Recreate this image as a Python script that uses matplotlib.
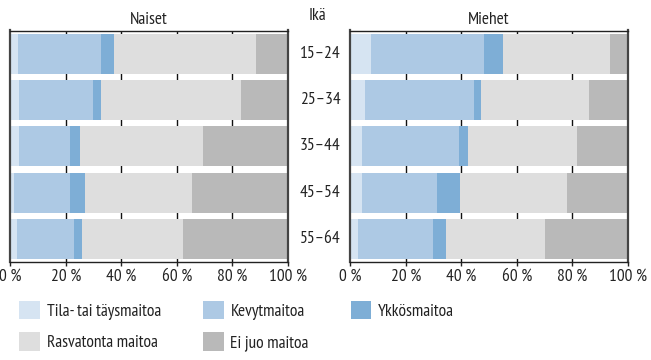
import numpy as np
import matplotlib
matplotlib.use("Agg")
import matplotlib.pyplot as plt
import matplotlib.transforms as mtrans
from matplotlib.patches import Patch

plt.rcParams['font.family'] = ['PT Sans Narrow', 'DejaVu Sans']
plt.rcParams['font.weight'] = 'normal'
FS = 12.5
plt.rcParams['font.size'] = FS

ages = ["15–24", "25–34", "35–44", "45–54", "55–64"]
categories = ["Tila- tai täysmaitoa", "Kevytmaitoa", "Ykkösmaitoa",
              "Rasvatonta maitoa", "Ei juo maitoa"]
colors = ["#d6e4f2", "#adc9e4", "#7eaed6", "#dedede", "#b9b9b9"]

# shares in %, one row per age group, columns follow categories
naiset = np.array([
    [2.6, 30.1, 4.6, 51.2, 11.5],
    [3.1, 26.7, 2.9, 50.4, 16.9],
    [3.1, 18.5, 3.5, 44.3, 30.6],
    [1.2, 20.4, 5.3, 38.5, 34.6],
    [2.4, 20.5, 2.9, 36.4, 37.8],
])
miehet = np.array([
    [7.5, 40.7, 6.8, 38.6, 6.4],
    [5.3, 39.3, 2.5, 39.0, 13.9],
    [4.2, 35.0, 3.2, 39.3, 18.3],
    [4.2, 27.1, 8.2, 38.6, 21.9],
    [2.8, 27.0, 4.7, 35.7, 29.8],
])
xticks = [0, 20, 40, 60, 80, 100]
xticklabels = ["0 %", "20 %", "40 %", "60 %", "80 %", "100 %"]

W, H = 651, 360
fig = plt.figure(figsize=(W / 100, H / 100), dpi=100)
ax1 = fig.add_axes([10.3 / W, 1 - 262 / H, 277.7 / W, 231.5 / H])
ax2 = fig.add_axes([350.3 / W, 1 - 262 / H, 277.3 / W, 231.5 / H])


def draw(ax, data, title):
    y = np.arange(len(ages))
    left = np.zeros(len(ages))
    for j, c in enumerate(colors):
        ax.barh(y, data[:, j], left=left, height=0.865, color=c,
                edgecolor="none", zorder=2)
        left += data[:, j]
    ax.set_xlim(0, 100)
    ax.set_ylim(len(ages) - 0.5, -0.5)
    ax.set_yticks([])
    ax.set_xticks(xticks)
    ax.set_xticklabels(xticklabels)
    ax.tick_params(axis="x", length=3, width=1, pad=2, color="#222222",
                   labelcolor="#222222")
    for v in xticks[1:-1]:
        ax.axvline(v, color="#111111", lw=1, zorder=1)
    for s in ax.spines.values():
        s.set_color("#222222")
        s.set_linewidth(1)
    ax.spines["left"].set_linewidth(1.6)
    ax.spines["left"].set_color("#444444")
    ax.spines["right"].set_linewidth(1.6)
    ax.spines["right"].set_color("#444444")
    ax.set_title(title, fontsize=FS, pad=5, color="#222222")


draw(ax1, naiset, "Naiset")
draw(ax2, miehet, "Miehet")

# age group labels between the panels
tr = mtrans.blended_transform_factory(fig.transFigure, ax1.transData)
for i, a in enumerate(ages):
    ax1.text(320 / W, i, a, transform=tr, ha="center", va="center",
             fontsize=FS, color="#222222")
fig.text(317 / W, 1 - 16 / H, "Ikä", ha="center", va="center",
         fontsize=FS, color="#222222")

order = [0, 3, 1, 4, 2]
handles = [Patch(facecolor=colors[k], edgecolor="none") for k in order]
labels = [categories[k] for k in order]
fig.legend(handles, labels, ncol=3, loc="upper left",
           bbox_to_anchor=(19 / W, 1 - 301 / H), frameon=False,
           borderpad=0, borderaxespad=0, handlelength=1.2,
           handleheight=1.26, handletextpad=0.4, columnspacing=2.4,
           labelspacing=0.69, fontsize=FS, labelcolor="#222222")

fig.savefig("out.png", dpi=100)
